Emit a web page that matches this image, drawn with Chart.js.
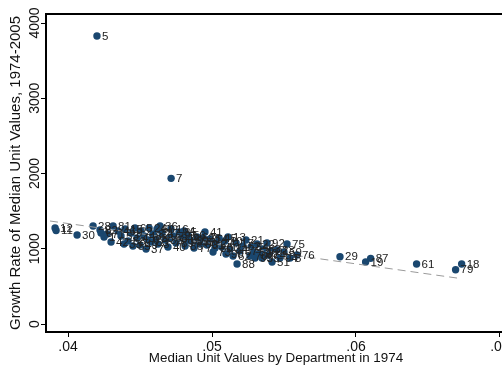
<!DOCTYPE html>
<html lang="en">
<head>
    <meta charset="UTF-8">
    <title>Growth Rate vs Median Unit Values</title>
    <script src="https://cdn.jsdelivr.net/npm/chart.js"></script>
    <style>
        html, body { margin: 0; padding: 0; overflow: hidden; background: #fff; }
        #chart { display: block; }
    </style>
</head>
<body>
    <canvas id="chart" width="520" height="366"></canvas>
    <script>
        // departments (marker labels)
        const depts = ['5', '7', '12', '11', '30', '28', '29', '19', '87', '61', '18', '79', '76', '8', '75',
            '6', '1', '82', '71', '42', '81', '46', '53', '33', '15', '58', '9', '65', '43', '49', '2', '48', '37',
            '67', '24', '63', '32', '38', '66', '3', '36', '47', '35', '40', '68', '16', '72', '89', '85', '4', '44',
            '86', '69', '56', '39', '77', '64', '78', '60', '25', '41', '31', '14', '73', '80', '27', '45', '50',
            '10', '90', '13', '34', '62', '17', '88', '57', '52', '21', '70', '84', '54', '93', '22', '26', '95',
            '83', '92', '74', '91', '51', '23', '94', '59', '55'];

        // median unit values 1974
        const unitValue1974 = [0.04201, 0.04716, 0.03910, 0.03917, 0.04063, 0.04174, 0.05889, 0.06067, 0.06102, 0.06421, 0.06734, 0.06692, 0.05590, 0.05542, 0.05521,
            0.04229, 0.04250, 0.04222, 0.04271, 0.04299, 0.04313, 0.04347, 0.04368, 0.04389, 0.04396, 0.04417, 0.04438, 0.04465, 0.04479, 0.04500, 0.04507, 0.04528, 0.04542,
            0.04556, 0.04563, 0.04576, 0.04590, 0.04611, 0.04618, 0.04625, 0.04639, 0.04653, 0.04674, 0.04694, 0.04708, 0.04715, 0.04729, 0.04750, 0.04771, 0.04806, 0.04792,
            0.04813, 0.04819, 0.04833, 0.04854, 0.04875, 0.04896, 0.04903, 0.04917, 0.04938, 0.04951, 0.04965, 0.04986, 0.05007, 0.05021, 0.05028, 0.05049, 0.05069,
            0.05090, 0.05097, 0.05111, 0.05125, 0.05146, 0.05167, 0.05174, 0.05194, 0.05215, 0.05236, 0.05264, 0.05271, 0.05292, 0.05299, 0.05313, 0.05333, 0.05347,
            0.05354, 0.05382, 0.05389, 0.05410, 0.05417, 0.05451, 0.05472, 0.05500, 0.04451];

        // growth rate of median unit values 1974-2005
        const growthRate = [3827, 1936, 1276, 1243, 1183, 1302, 894, 824, 873, 797, 797, 722, 917, 877, 1063,
            1209, 1156, 1249, 1196, 1090, 1302, 1236, 1169, 1063, 1262, 1103, 1209, 1276, 1143, 1050, 1236, 1169, 997,
            1116, 1276, 1090, 1196, 1143, 1262, 1063, 1302, 1209, 1116, 1023, 1143, 1262, 1169, 1076, 1223, 1236, 1143,
            1037, 1116, 1183, 1103, 1010, 1156, 1090, 1063, 1143, 1223, 1050, 1130, 957, 1010, 1076, 1143, 1023,
            1103, 930, 1156, 997, 904, 1076, 797, 970, 1037, 1116, 904, 1023, 957, 877, 1063, 944, 877,
            997, 1076, 917, 970, 824, 983, 877, 957, 1037];

        // fitted line end points
        const fitX = [0.03875, 0.06736];
        const fitY = [1369, 602];

        const xTicks = [0.04, 0.05, 0.06, 0.07];
        const yTicks = [0, 1000, 2000, 3000, 4000];

        const font = '"Liberation Sans", Arial, Helvetica, sans-serif';

        const pointLabels = {
            id: 'pointLabels',
            afterDatasetsDraw(chart) {
                const meta = chart.getDatasetMeta(0);
                const ctx = chart.ctx;
                ctx.save();
                ctx.font = '11.5px ' + font;
                ctx.fillStyle = '#222';
                ctx.textBaseline = 'middle';
                meta.data.forEach((pt, i) => ctx.fillText(depts[i], pt.x + 5, pt.y + 0.5));
                ctx.restore();
            }
        };

        const frame = {
            id: 'frame',
            afterDraw(chart) {
                const a = chart.chartArea;
                const ctx = chart.ctx;
                ctx.save();
                ctx.strokeStyle = '#000';
                ctx.lineWidth = 2;
                ctx.beginPath();
                ctx.moveTo(a.left, a.top);
                ctx.lineTo(a.right, a.top);
                ctx.lineTo(a.right, a.bottom);
                ctx.stroke();
                ctx.restore();
            }
        };

        new Chart(document.getElementById('chart'), {
            type: 'scatter',
            data: {
                datasets: [{
                    data: unitValue1974.map((x, i) => ({ x: x, y: growthRate[i] })),
                    backgroundColor: '#1a476f',
                    borderWidth: 0,
                    pointRadius: 3.7,
                    order: 1
                }, {
                    type: 'line',
                    data: fitX.map((x, i) => ({ x: x, y: fitY[i] })),
                    borderColor: '#9a9a9a',
                    borderWidth: 1,
                    borderDash: [8, 5],
                    pointRadius: 0,
                    fill: false,
                    order: 0
                }]
            },
            options: {
                responsive: false,
                animation: false,
                layout: { padding: { left: 1, top: 14, right: 14, bottom: 0 } },
                plugins: {
                    legend: { display: false },
                    tooltip: { enabled: false }
                },
                scales: {
                    x: {
                        type: 'linear',
                        min: 0.03847,
                        max: 0.07042,
                        afterBuildTicks: s => { s.ticks = xTicks.map(v => ({ value: v })); },
                        afterFit: s => { s.height = 34; },
                        grid: { drawOnChartArea: false, tickLength: 5, color: '#000' },
                        border: { color: '#000', width: 2 },
                        ticks: {
                            color: '#111',
                            padding: 2,
                            maxRotation: 0,
                            font: { family: font, size: 14 },
                            callback: v => v.toFixed(2).replace(/^0/, '')
                        },
                        title: {
                            display: true,
                            text: 'Median Unit Values by Department in 1974',
                            color: '#111',
                            padding: 0,
                            font: { family: font, size: 13.4 }
                        }
                    },
                    y: {
                        min: -106,
                        max: 4120,
                        afterBuildTicks: s => { s.ticks = yTicks.map(v => ({ value: v })); },
                        afterFit: s => { s.width = 45; },
                        grid: { drawOnChartArea: false, tickLength: 5, color: '#000' },
                        border: { color: '#000', width: 2 },
                        ticks: {
                            color: '#111',
                            minRotation: 90,
                            maxRotation: 90,
                            crossAlign: 'center',
                            padding: -10,
                            font: { family: font, size: 14 },
                            callback: v => String(v)
                        },
                        title: {
                            display: true,
                            text: 'Growth Rate of Median Unit Values, 1974-2005',
                            color: '#111',
                            padding: { top: 6, bottom: 0 },
                            font: { family: font, size: 15 }
                        }
                    }
                }
            },
            plugins: [pointLabels, frame]
        });
    </script>
</body>
</html>
